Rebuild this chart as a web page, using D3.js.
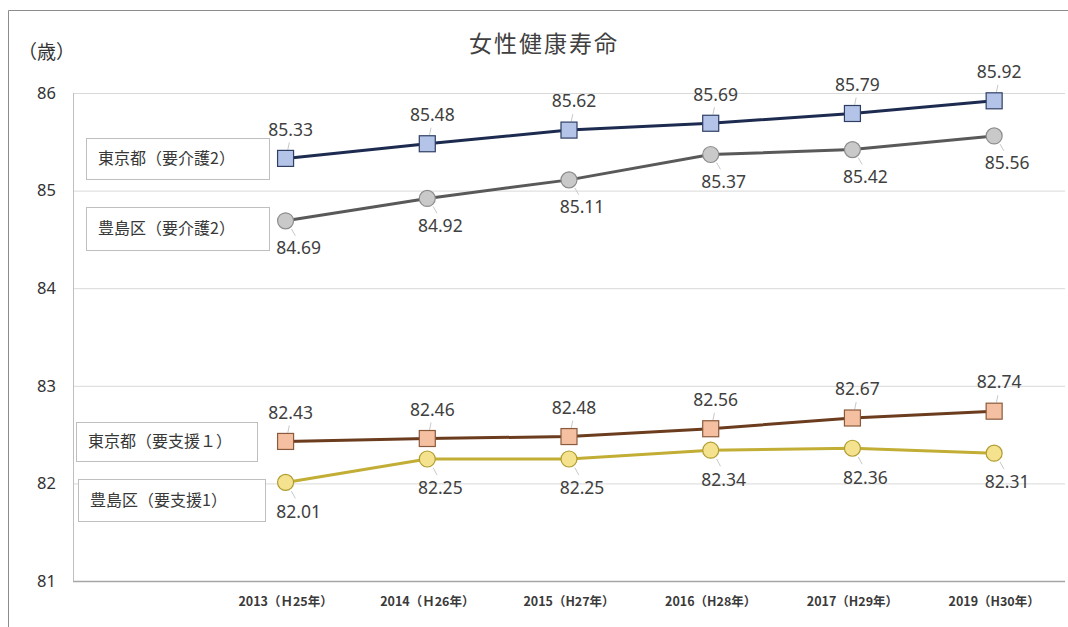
<!DOCTYPE html>
<html>
<head>
<meta charset="utf-8">
<script src="https://cdn.jsdelivr.net/npm/d3@7"></script>
<style>
  body { margin: 0; background: #fff; }
  svg { display: block; }
</style>
</head>
<body>
<div class="chart"></div>
<script>
// 年度
const years = ['2013（Ｈ25年）', '2014（Ｈ26年）', '2015（H27年）', '2016（H28年）', '2017（H29年）', '2019（H30年）'];
// 各系列の値
const tokyoKaigo = [85.33, 85.48, 85.62, 85.69, 85.79, 85.92];
const toshimaKaigo = [84.69, 84.92, 85.11, 85.37, 85.42, 85.56];
const tokyoShien = [82.43, 82.46, 82.48, 82.56, 82.67, 82.74];
const toshimaShien = [82.01, 82.25, 82.25, 82.34, 82.36, 82.31];
const seriesNames = ['東京都（要介護2）', '豊島区（要介護2）', '東京都（要支援１）', '豊島区（要支援1）'];
const yTicks = [81, 82, 83, 84, 85, 86];

const width = 1068;
const height = 627;
const plotLeft = 73, plotRight = 1065, plotTop = 93, plotBottom = 581;

const svg = d3.select('.chart').append('svg')
    .attr('width', width)
    .attr('height', height);

// 枠線
svg.append('path')
    .attr('d', `M8.5,${height} V10.5 H${width}`)
    .attr('fill', 'none')
    .attr('stroke', '#8c8c8c');

const x = d3.scaleBand()
    .domain(['', ...years])
    .range([plotLeft, plotRight]);
const y = d3.scaleLinear()
    .domain([81, 86])
    .range([plotBottom, plotTop]);
const cx = d => x(d) + x.bandwidth() / 2;

// 目盛線
svg.append('g')
    .attr('transform', `translate(${plotLeft},0)`)
    .call(d3.axisLeft(y).tickValues(yTicks).tickSize(-(plotRight - plotLeft)).tickPadding(17).tickFormat(d3.format('d')))
    .call(g => g.select('.domain').remove())
    .call(g => g.selectAll('.tick line')
        .attr('stroke', d => d === 81 ? '#a6a6a6' : '#d9d9d9')
        .attr('stroke-width', d => d === 81 ? 1.5 : 1))
    .call(g => g.selectAll('.tick text')
        .attr('fill', '#333')
        .style('font-family', '"Noto Sans", sans-serif')
        .style('font-size', '16.5px'));

svg.append('line')
    .attr('x1', plotLeft + 0.5).attr('x2', plotLeft + 0.5)
    .attr('y1', plotTop).attr('y2', plotBottom)
    .attr('stroke', '#bfbfbf');

// 横軸ラベル
svg.append('g')
    .attr('transform', `translate(0,${plotBottom})`)
    .call(d3.axisBottom(x).tickSize(0).tickPadding(16))
    .call(g => g.select('.domain').remove())
    .call(g => g.selectAll('.tick').filter(d => d === '').remove())
    .call(g => g.selectAll('.tick text')
        .attr('fill', '#3a3a3a')
        .style('font-family', '"Noto Sans CJK JP", sans-serif')
        .style('font-size', '12.5px')
        .style('font-weight', 'bold'));

// タイトル
svg.append('text')
    .attr('x', 544).attr('y', 52)
    .attr('text-anchor', 'middle')
    .attr('fill', '#404040')
    .style('font-family', '"Noto Sans CJK JP", sans-serif')
    .style('font-size', '23px')
    .style('letter-spacing', '2px')
    .text('女性健康寿命');

svg.append('text')
    .attr('x', 18).attr('y', 59)
    .attr('fill', '#333')
    .style('font-family', '"Noto Sans CJK JP", sans-serif')
    .style('font-size', '19px')
    .text('（歳）');

// 系列のスタイル
const series = [
    {name: seriesNames[0], values: tokyoKaigo, line: '#1c2b4f', fill: '#b4c4e8', stroke: '#2f3f63', shape: 'square', dx: 5, dy: -29},
    {name: seriesNames[1], values: toshimaKaigo, line: '#595959', fill: '#c9c9c9', stroke: '#8c8c8c', shape: 'circle', dx: 13, dy: 27},
    {name: seriesNames[2], values: tokyoShien, line: '#6b3c1e', fill: '#f5c0a2', stroke: '#8a5a3c', shape: 'square', dx: 5, dy: -29},
    {name: seriesNames[3], values: toshimaShien, line: '#c2ad35', fill: '#f4e28e', stroke: '#b09c30', shape: 'circle', dx: 13, dy: 29}
];

// 凡例の枠
const boxes = [
    {x: 86, y: 138, w: 183, h: 41},
    {x: 86, y: 207, w: 183, h: 43},
    {x: 76, y: 422, w: 181, h: 39},
    {x: 78, y: 479, w: 187, h: 42}
];
boxes.forEach((b, i) => {
    svg.append('rect')
        .attr('x', b.x + 0.5).attr('y', b.y + 0.5)
        .attr('width', b.w).attr('height', b.h)
        .attr('fill', '#fff')
        .attr('stroke', '#bfbfbf');
    svg.append('text')
        .attr('x', b.x + 12).attr('y', b.y + b.h / 2)
        .attr('dy', '0.36em')
        .attr('fill', '#383838')
        .style('font-family', '"Noto Sans CJK JP", sans-serif')
        .style('font-size', '16px')
        .text(series[i].name);
});

const line = d3.line()
    .x((d, i) => cx(years[i]))
    .y(d => y(d));

series.forEach(s => {
    const g = svg.append('g');
    g.append('path')
        .datum(s.values)
        .attr('d', line)
        .attr('fill', 'none')
        .attr('stroke', s.line)
        .attr('stroke-width', 3);

    // 引出線
    g.selectAll('.leader')
        .data(s.values)
        .join('line')
        .attr('x1', (d, i) => cx(years[i]) + s.dx * 0.45)
        .attr('y1', d => y(d) + s.dy * 0.3)
        .attr('x2', (d, i) => cx(years[i]) + s.dx * 0.75)
        .attr('y2', d => y(d) + s.dy * 0.55)
        .attr('stroke', '#c8c8c8');

    if (s.shape === 'square') {
        g.selectAll('.mk')
            .data(s.values)
            .join('rect')
            .attr('x', (d, i) => cx(years[i]) - 8)
            .attr('y', d => y(d) - 8)
            .attr('width', 16).attr('height', 16)
            .attr('fill', s.fill)
            .attr('stroke', s.stroke)
            .attr('stroke-width', 1.2);
    } else {
        g.selectAll('.mk')
            .data(s.values)
            .join('circle')
            .attr('cx', (d, i) => cx(years[i]))
            .attr('cy', d => y(d))
            .attr('r', 8)
            .attr('fill', s.fill)
            .attr('stroke', s.stroke)
            .attr('stroke-width', 1.2);
    }

    g.selectAll('.lbl')
        .data(s.values)
        .join('text')
        .attr('x', (d, i) => cx(years[i]) + s.dx)
        .attr('y', d => y(d) + s.dy)
        .attr('dy', '0.36em')
        .attr('text-anchor', 'middle')
        .attr('fill', '#404040')
        .style('font-family', '"Noto Sans", sans-serif')
        .style('font-size', '17.5px')
        .text(d => d.toFixed(2));
});
</script>
</body>
</html>
